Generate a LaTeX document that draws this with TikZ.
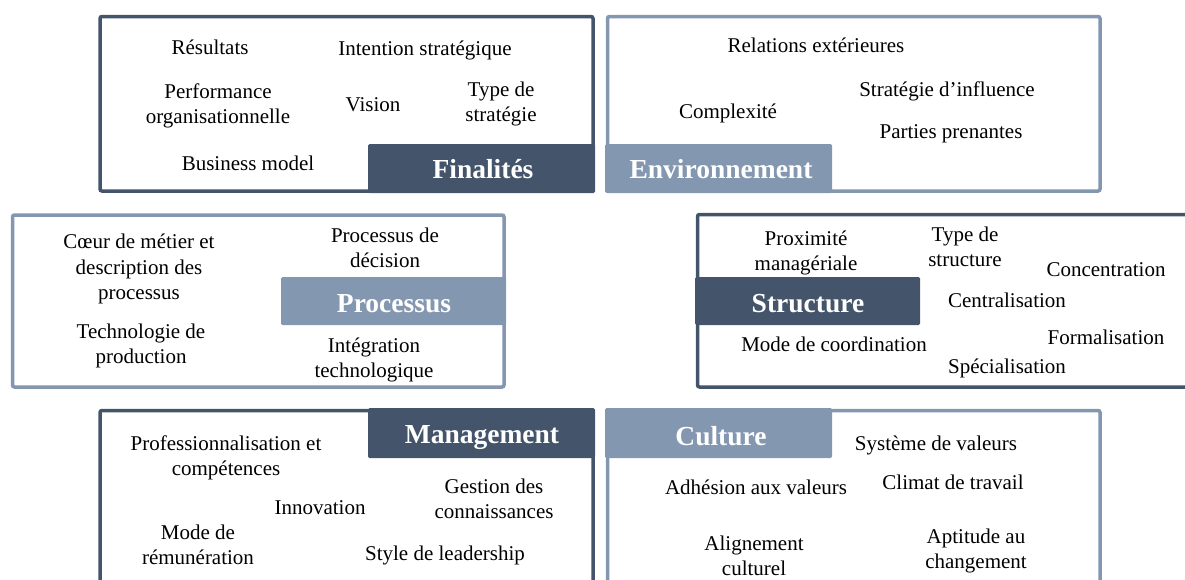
\documentclass[tikz,border=0pt]{standalone}
\usepackage{fontspec}
\setmainfont{Liberation Serif}
\usepackage{xcolor}
\usepackage{tikz}

\definecolor{slatedark}{HTML}{44546A}
\definecolor{slatelight}{HTML}{8497B0}

\begin{document}
\begin{tikzpicture}[
  x=1pt,y=-1pt,
  dimbox/.style={draw=#1,line width=3.5pt,rounded corners=2pt},
  tagbox/.style={fill=#1,rounded corners=1.5pt},
  tagtext/.style={text=white,font=\fontsize{27.5}{30}\selectfont\bfseries,inner sep=0pt},
  item/.style={align=center,font=\fontsize{21}{25.5}\selectfont,inner sep=0pt}
]
 \useasboundingbox (0,0) rectangle (1185,579);
 \begin{scope}
 \clip (0,0) rectangle (1185,579);
 % the six dimension frames
 \draw[dimbox=slatedark]  (100,16.5) rectangle (593,191)   coordinate (fin);
 \draw[dimbox=slatelight] (607.5,16.5) rectangle (1100,191) coordinate (env);
 \draw[dimbox=slatelight] (12.5,215) rectangle (504,387)   coordinate (proc);
 \draw[dimbox=slatedark]  (697.5,214.5) rectangle (1210,387) coordinate (struc);
 \draw[dimbox=slatedark]  (100,410.5) rectangle (593,610)  coordinate (mgmt);
 \draw[dimbox=slatelight] (607.5,410.5) rectangle (1100,610) coordinate (cult);
 % title bands
 \fill[tagbox=slatedark]  (368,144) rectangle (595,193);
 \fill[tagbox=slatelight] (605,144) rectangle (832,193);
 \fill[tagbox=slatelight] (281,277) rectangle (506,325);
 \fill[tagbox=slatedark]  (695,277) rectangle (920,325);
 \fill[tagbox=slatedark]  (368,408) rectangle (595,458);
 \fill[tagbox=slatelight] (605,408) rectangle (832,458);
 \end{scope}
 \node[tagtext] (fintag)   at (483,169) {Finalités};
 \node[tagtext] (envtag)   at (721,169) {Environnement};
 \node[tagtext] (proctag)  at (394,304) {Processus};
 \node[tagtext] (structag) at (808,304) {Structure};
 \node[tagtext] (mgmttag)  at (482,438) {Management};
 \node[tagtext] (culttag)  at (721,436) {Culture};

 % Finalites
 \node[item] (resultats) at (210,47)  {Résultats};
 \node[item] (intention) at (425,50)  {Intention stratégique};
 \node[item] (perf)      at (218,106) {Performance\\organisationnelle};
 \node[item] (vision)    at (373,105) {Vision};
 \node[item] (typestrat) at (501,104) {Type de\\stratégie};
 \node[item] (business)  at (248,163) {Business model};
 % Environnement
 \node[item] (relations) at (816,45)  {Relations extérieures};
 \node[item] (influence) at (947,91)  {Stratégie d’influence};
 \node[item] (complex)   at (728,113) {Complexité};
 \node[item] (parties)   at (951,134) {Parties prenantes};
 % Processus
 \node[item] (coeur)     at (139,269) {Cœur de métier et\\description des\\processus};
 \node[item] (techno)    at (141,346) {Technologie de\\production};
 \node[item] (decision)  at (385,248) {Processus de\\décision};
 \node[item] (integ)     at (374,360) {Intégration\\technologique};
 % Structure
 \node[item] (proxi)     at (806,253) {Proximité\\managériale};
 \node[item] (typestruc) at (965,247) {Type de\\structure};
 \node[item] (concen)    at (1106,270) {Concentration};
 \node[item] (central)   at (1007,300) {Centralisation};
 \node[item] (formal)    at (1106,337) {Formalisation};
 \node[item] (coord)     at (834,344) {Mode de coordination};
 \node[item] (special)   at (1007,368) {Spécialisation};
 % Management
 \node[item] (profess)   at (226,458) {Professionnalisation et\\compétences};
 \node[item] (innov)     at (320,508) {Innovation};
 \node[item] (gestion)   at (494,499) {Gestion des\\connaissances};
 \node[item] (remun)     at (198,545) {Mode de\\rémunération};
 \node[item] (leader)    at (445,555) {Style de leadership};
 % Culture
 \node[item] (systeme)   at (936,445) {Système de valeurs};
 \node[item] (adhesion)  at (756,487) {Adhésion aux valeurs};
 \node[item] (climat)    at (953,482) {Climat de travail};
 \node[item] (align)     at (754,556) {Alignement\\culturel};
 \node[item] (aptitude)  at (976,551) {Aptitude au\\changement};
\end{tikzpicture}
\end{document}
